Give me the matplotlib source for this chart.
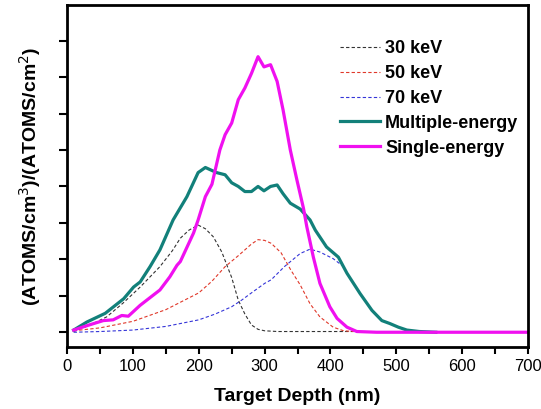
import matplotlib.pyplot as plt
from matplotlib.ticker import MultipleLocator

plt.rcParams['font.family'] = ['Liberation Sans', 'DejaVu Sans']

# depth (nm) / concentration ratio
x30 = [10, 35, 60, 85, 111, 141, 160, 172, 185, 199, 210, 222, 235, 250, 260, 270, 280, 290, 300, 320, 350, 400, 435]
y30 = [0.01, 0.10, 0.21, 0.40, 0.62, 0.90, 1.12, 1.29, 1.40, 1.47, 1.42, 1.31, 1.10, 0.75, 0.44, 0.25, 0.10, 0.04, 0.02, 0.01, 0.01, 0.01, 0.01]

x50 = [10, 50, 100, 150, 200, 220, 240, 260, 270, 280, 290, 300, 310, 325, 340, 354, 369, 384, 404, 420, 435]
y50 = [0.02, 0.06, 0.15, 0.31, 0.54, 0.70, 0.90, 1.05, 1.13, 1.21, 1.27, 1.26, 1.22, 1.09, 0.85, 0.65, 0.39, 0.21, 0.07, 0.02, 0.01]

x70 = [10, 50, 100, 150, 200, 225, 250, 265, 280, 300, 310, 330, 354, 369, 384, 404, 417]
y70 = [0.0, 0.01, 0.03, 0.08, 0.17, 0.25, 0.35, 0.44, 0.54, 0.67, 0.72, 0.90, 1.08, 1.14, 1.10, 1.01, 0.92]

x_multi = [10, 30, 58, 86, 101, 111, 126, 141, 161, 182, 199, 210, 227, 240, 250, 260, 270, 280, 290, 299, 309, 319, 328, 339, 354, 369, 377, 394, 412, 425, 445, 463, 478, 490, 503, 516, 535, 560]
y_multi = [0.03, 0.14, 0.26, 0.46, 0.62, 0.69, 0.90, 1.13, 1.54, 1.86, 2.19, 2.26, 2.19, 2.16, 2.05, 2.00, 1.93, 1.93, 2.00, 1.94, 2.00, 2.02, 1.90, 1.77, 1.69, 1.54, 1.40, 1.17, 1.03, 0.81, 0.53, 0.30, 0.16, 0.12, 0.07, 0.03, 0.01, 0.0]

x_single = [10, 30, 55, 70, 83, 93, 111, 141, 156, 167, 172, 192, 199, 210, 220, 232, 240, 250, 260, 270, 280, 290, 299, 309, 319, 328, 339, 349, 359, 364, 374, 384, 399, 410, 425, 440, 470, 500, 600, 700]
y_single = [0.03, 0.09, 0.16, 0.17, 0.23, 0.22, 0.37, 0.58, 0.76, 0.92, 0.97, 1.36, 1.54, 1.86, 2.03, 2.50, 2.71, 2.87, 3.19, 3.35, 3.55, 3.78, 3.64, 3.67, 3.44, 3.05, 2.50, 2.09, 1.70, 1.45, 1.03, 0.67, 0.35, 0.19, 0.07, 0.01, 0.0, 0.0, 0.0, 0.0]

fig = plt.figure(figsize=(5.41, 4.09), dpi=100)
ax = fig.add_axes([0.124, 0.152, 0.852, 0.836])

ax.plot(x30, y30, ls='--', color='#333333', lw=0.8, dashes=(3, 2), label='30 keV')
ax.plot(x50, y50, ls='--', color='#e0382a', lw=0.8, dashes=(3, 2), label='50 keV')
ax.plot(x70, y70, ls='--', color='#3535d8', lw=0.8, dashes=(3, 2), label='70 keV')
ax.plot(x_multi, y_multi, color='#12807a', lw=2.3, label='Multiple-energy')
ax.plot(x_single, y_single, color='#f010f0', lw=2.3, label='Single-energy')

ax.set_xlim(0, 700)
ax.set_ylim(-0.2, 4.49)
ax.xaxis.set_major_locator(MultipleLocator(100))
ax.xaxis.set_minor_locator(MultipleLocator(50))
ax.yaxis.set_major_locator(MultipleLocator(1))
ax.yaxis.set_minor_locator(MultipleLocator(0.5))
ax.set_yticklabels([])
ax.tick_params(which='both', direction='out', length=5, width=1.5, labelsize=12)
ax.tick_params(axis='y', which='both', length=6)
for s in ax.spines.values():
    s.set_linewidth(2)

ax.set_xlabel('Target Depth (nm)', fontsize=14, fontweight='bold', labelpad=10)
ax.set_ylabel('(ATOMS/cm$^3$)/(ATOMS/cm$^2$)', fontsize=14, fontweight='bold', labelpad=8)

leg = ax.legend(loc='upper left', bbox_to_anchor=(0.592, 0.896), frameon=False,
                prop={'weight': 'bold', 'size': 13}, handlelength=2.2,
                handletextpad=0.3, labelspacing=0.43, borderpad=0, borderaxespad=0)

fig.savefig('out.png', dpi=100)
